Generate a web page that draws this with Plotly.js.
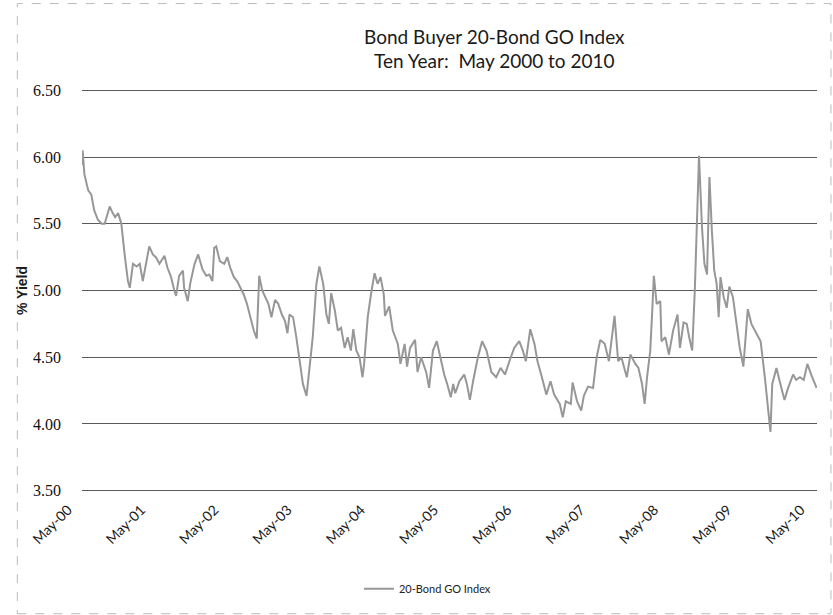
<!DOCTYPE html>
<html>
<head>
<meta charset="utf-8">
<script src="https://cdn.plot.ly/plotly-3.0.1.min.js"></script>
<style>html,body{margin:0;padding:0;background:#fff}#chart{width:833px;height:615px}</style>
</head>
<body>
<div id="chart"></div>
<script>
const dates = [
'2000-05-01','2000-05-04','2000-05-13','2000-06-01','2000-06-16','2000-07-01','2000-07-19','2000-08-07','2000-08-22','2000-09-16',
'2000-10-01','2000-10-13','2000-10-28','2000-11-13','2000-12-01','2000-12-16','2000-12-25','2001-01-10','2001-01-28','2001-02-13',
'2001-02-28','2001-03-16','2001-04-01','2001-04-19','2001-05-04','2001-05-22','2001-06-16','2001-07-01','2001-07-19','2001-08-04',
'2001-08-13','2001-08-28','2001-09-16','2001-09-22','2001-10-10','2001-10-22','2001-11-13','2001-12-01','2001-12-22','2002-01-10',
'2002-01-25','2002-02-10','2002-02-19','2002-03-01','2002-03-19','2002-04-10','2002-04-25','2002-05-10','2002-05-28','2002-06-13',
'2002-07-01','2002-07-16','2002-08-01','2002-08-19','2002-09-04','2002-09-19','2002-10-01','2002-10-16','2002-11-01','2002-11-16',
'2002-12-01','2002-12-19','2003-01-04','2003-01-22','2003-02-07','2003-02-19','2003-03-01','2003-03-19','2003-04-04','2003-04-22',
'2003-05-07','2003-05-25','2003-06-10','2003-06-25','2003-07-13','2003-07-28','2003-08-16','2003-09-01','2003-09-13','2003-09-25',
'2003-10-13','2003-10-28','2003-11-13','2003-12-01','2003-12-16','2004-01-01','2004-01-13','2004-01-28','2004-02-13','2004-02-28',
'2004-03-07','2004-03-25','2004-04-10','2004-04-28','2004-05-13','2004-05-28','2004-06-13','2004-06-19','2004-07-10','2004-07-28',
'2004-08-22','2004-09-04','2004-09-25','2004-10-07','2004-10-22','2004-11-16','2004-11-28','2004-12-16','2005-01-10','2005-01-25',
'2005-02-13','2005-03-04','2005-03-22','2005-04-10','2005-04-25','2005-05-13','2005-05-25','2005-06-04','2005-06-25','2005-07-19',
'2005-08-01','2005-08-16','2005-09-01','2005-09-25','2005-10-16','2005-11-07','2005-12-01','2005-12-25','2006-01-16','2006-02-07',
'2006-03-01','2006-03-25','2006-04-19','2006-05-07','2006-05-22','2006-06-13','2006-07-04','2006-07-19','2006-08-10','2006-09-01',
'2006-09-22','2006-10-10','2006-11-07','2006-11-22','2006-12-07','2007-01-01','2007-01-10','2007-02-01','2007-02-22','2007-03-07',
'2007-03-28','2007-04-22','2007-05-10','2007-05-28','2007-06-19','2007-07-10','2007-07-25','2007-08-07','2007-08-25','2007-09-10',
'2007-10-07','2007-10-25','2007-11-19','2007-12-04','2007-12-22','2008-01-04','2008-01-16','2008-02-01','2008-02-10','2008-02-19',
'2008-03-04','2008-03-22','2008-03-28','2008-04-16','2008-05-04','2008-05-25','2008-06-16','2008-06-28','2008-07-16','2008-08-01',
'2008-08-13','2008-08-28','2008-09-10','2008-09-19','2008-10-01','2008-10-16','2008-10-28','2008-11-10','2008-11-22','2008-12-04',
'2008-12-16','2008-12-28','2009-01-07','2009-01-16','2009-02-01','2009-02-16','2009-03-01','2009-03-19','2009-04-07','2009-04-22',
'2009-05-10','2009-06-01','2009-06-19','2009-07-13','2009-08-04','2009-08-25','2009-09-07','2009-09-22','2009-10-01','2009-10-22',
'2009-11-07','2009-12-01','2009-12-19','2010-01-13','2010-01-28','2010-02-16','2010-03-07','2010-03-25','2010-04-13','2010-04-28',
'2010-05-10'
];
const yields = [
5.94,6.05,5.87,5.75,5.72,5.60,5.53,5.50,5.50,5.63,
5.58,5.55,5.58,5.50,5.25,5.07,5.02,5.20,5.18,5.20,
5.07,5.20,5.33,5.27,5.25,5.20,5.26,5.17,5.10,5.00,
4.96,5.11,5.15,5.02,4.92,5.05,5.20,5.27,5.16,5.11,
5.12,5.07,5.32,5.33,5.22,5.20,5.25,5.17,5.10,5.07,
5.02,4.97,4.90,4.80,4.70,4.64,5.11,5.00,4.95,4.90,
4.80,4.93,4.90,4.82,4.77,4.68,4.82,4.80,4.65,4.47,
4.30,4.21,4.45,4.65,5.05,5.18,5.05,4.82,4.75,4.98,
4.85,4.70,4.72,4.57,4.65,4.55,4.71,4.55,4.50,4.35,
4.45,4.80,4.97,5.13,5.05,5.10,4.97,4.81,4.88,4.70,
4.60,4.45,4.60,4.43,4.57,4.63,4.39,4.50,4.39,4.27,
4.55,4.62,4.50,4.37,4.30,4.20,4.30,4.23,4.32,4.37,
4.30,4.18,4.32,4.50,4.62,4.55,4.39,4.35,4.42,4.37,
4.47,4.57,4.62,4.55,4.47,4.71,4.60,4.47,4.35,4.22,
4.32,4.22,4.15,4.05,4.17,4.15,4.31,4.17,4.10,4.21,
4.28,4.27,4.50,4.63,4.60,4.47,4.65,4.81,4.47,4.50,
4.35,4.52,4.45,4.42,4.30,4.15,4.35,4.55,4.82,5.11,
4.90,4.92,4.62,4.65,4.52,4.70,4.82,4.57,4.76,4.75,
4.65,4.55,5.00,5.47,6.01,5.47,5.20,5.12,5.85,5.45,
5.15,5.05,4.80,5.10,4.95,4.87,5.03,4.95,4.75,4.57,
4.43,4.86,4.75,4.68,4.62,4.35,4.15,3.94,4.30,4.42,
4.32,4.18,4.27,4.37,4.33,4.35,4.33,4.45,4.37,4.32,
4.27
];
const tickDates = ['2000-05-01','2001-05-01','2002-05-01','2003-05-01','2004-05-01','2005-05-01','2006-05-01','2007-05-01','2008-05-01','2009-05-01','2010-05-01'];
const tickLabels = ['May-00','May-01','May-02','May-03','May-04','May-05','May-06','May-07','May-08','May-09','May-10'];
const yTicks = [3.5,4.0,4.5,5.0,5.5,6.0,6.5];
const yTickLabels = ['3.50','4.00','4.50','5.00','5.50','6.00','6.50'];

const trace = {
  x: dates, y: yields, type: 'scatter', mode: 'lines',
  name: '20-Bond GO Index',
  line: {color: '#979797', width: 2}
};

const layout = {
  width: 833, height: 615,
  paper_bgcolor: '#ffffff', plot_bgcolor: '#ffffff',
  margin: {l: 82, r: 16, t: 89, b: 121},
  title: {
    text: 'Bond Buyer 20-Bond GO Index<br>Ten Year:  May 2000 to 2010',
    font: {family: 'Lato, "Open Sans", sans-serif', size: 19, color: '#1a1a1a'},
    x: 0.561, xref: 'paper', xanchor: 'center',
    y: 0.929, yref: 'container', yanchor: 'top'
  },
  showlegend: true,
  legend: {
    orientation: 'h', x: 0.47, xanchor: 'center', y: -0.24, yanchor: 'middle',
    font: {family: 'Lato, sans-serif', size: 11, color: '#222'}
  },
  xaxis: {
    type: 'date',
    range: ['2000-05-01', '2010-05-12'],
    tickmode: 'array', tickvals: tickDates, ticktext: tickLabels,
    tickangle: -45,
    ticklabelshift: -14,
    ticklabelstandoff: 6,
    tickfont: {family: 'Lato, sans-serif', size: 14, color: '#1a1a1a'},
    showgrid: false, zeroline: false, showline: false, ticks: ''
  },
  yaxis: {
    range: [3.49, 6.51],
    tickmode: 'array', tickvals: yTicks, ticktext: yTickLabels,
    tickfont: {family: '"Liberation Serif", serif', size: 16, color: '#111'},
    showgrid: true, gridcolor: '#5a5a5a', gridwidth: 1,
    zeroline: false, showline: false, ticks: '',
    ticklabelstandoff: 20,
    title: {text: '<b>% Yield</b>', font: {family: '"Liberation Sans", Arial, sans-serif', size: 14, color: '#1a1a1a'}, standoff: 2}
  },
  shapes: [{
    type: 'rect', xref: 'paper', yref: 'paper',
    x0: -0.088, x1: 1.019, y0: -0.302, y1: 1.212,
    line: {color: '#bbbbbb', width: 1, dash: 'dash'}
  }]
};

Plotly.newPlot('chart', [trace], layout, {displayModeBar: false, staticPlot: true});
</script>
</body>
</html>
